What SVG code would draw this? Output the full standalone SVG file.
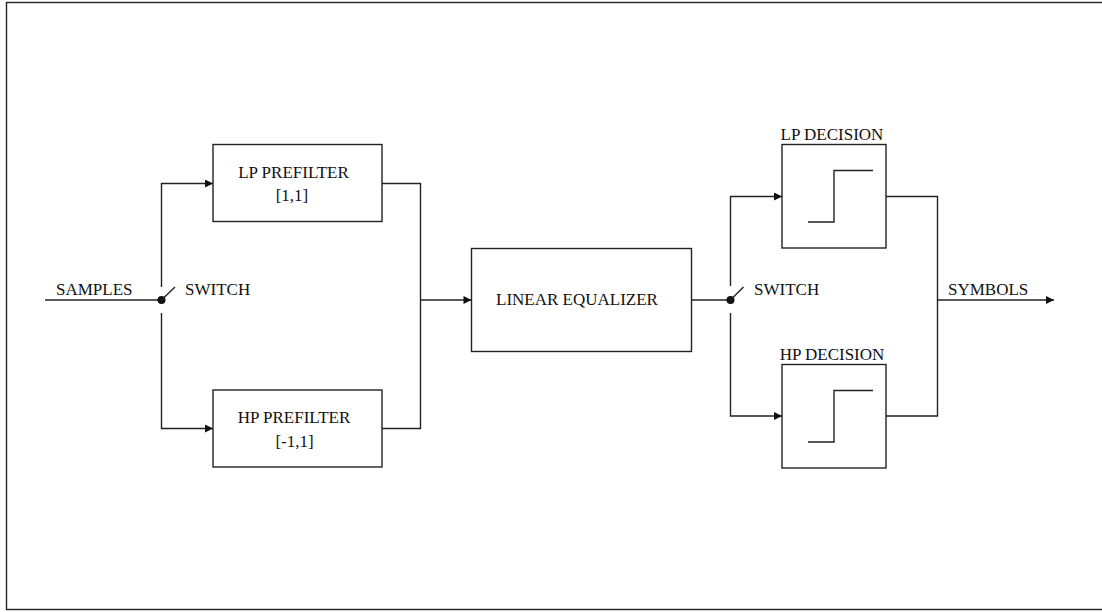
<svg xmlns="http://www.w3.org/2000/svg" width="1102" height="612" viewBox="0 0 1102 612">
<style>
.box{fill:#fff;stroke:#222;stroke-width:1.4}
.ln{fill:none;stroke:#222;stroke-width:1.4}
text{font-family:'Liberation Serif','Times New Roman',Times,serif;font-size:17px;fill:#111}
.m{text-anchor:middle}
</style>
<defs>
<marker id="arr" viewBox="0 0 10 10" refX="10" refY="5" markerWidth="9" markerHeight="8" markerUnits="userSpaceOnUse" orient="auto">
<path d="M0,0 L10,5 L0,10 z" fill="#111"/>
</marker>
</defs>
<rect x="6.5" y="2.5" width="1100" height="607" fill="#fff" stroke="#222" stroke-width="1.4"/>
<g id="connectors">
<path class="ln" d="M45,300 H161.5"/>
<path class="ln" d="M161.5,287 V183.5 H213" marker-end="url(#arr)"/>
<path class="ln" d="M161.5,313 V428.5 H213" marker-end="url(#arr)"/>
<path class="ln" d="M382,183.5 H420.5 V428.5 H382"/>
<path class="ln" d="M420.5,300 H471.5" marker-end="url(#arr)"/>
<path class="ln" d="M692,300 H730.5"/>
<path class="ln" d="M730.5,286 V196.5 H782" marker-end="url(#arr)"/>
<path class="ln" d="M730.5,313 V416 H782" marker-end="url(#arr)"/>
<path class="ln" d="M886,196.5 H937.5 V416 H886"/>
<path class="ln" d="M937.5,300 H1054" marker-end="url(#arr)"/>
</g>
<g id="input">
<text x="56" y="295">SAMPLES</text>
</g>
<g id="switch1">
<circle cx="161.5" cy="300" r="4" fill="#111"/>
<path class="ln" d="M161.5,300 L175,287"/>
<text x="185" y="295">SWITCH</text>
</g>
<g id="lp-prefilter">
<rect class="box" x="213" y="144.5" width="169" height="77"/>
<text class="m" x="293.5" y="178">LP PREFILTER</text>
<text class="m" x="292" y="201">[1,1]</text>
</g>
<g id="hp-prefilter">
<rect class="box" x="213" y="390" width="169" height="77"/>
<text class="m" x="294" y="423">HP PREFILTER</text>
<text class="m" x="294.5" y="446.5">[-1,1]</text>
</g>
<g id="linear-equalizer">
<rect class="box" x="471.5" y="248.5" width="220" height="103"/>
<text class="m" x="577" y="304.5">LINEAR EQUALIZER</text>
</g>
<g id="switch2">
<circle cx="730.5" cy="300" r="4" fill="#111"/>
<path class="ln" d="M730.5,300 L743.5,287"/>
<text x="754" y="295">SWITCH</text>
</g>
<g id="lp-decision">
<rect class="box" x="782" y="144.5" width="104" height="103.5"/>
<path class="ln" d="M808,222 H834 V170.5 H873"/>
<text class="m" x="832" y="140">LP DECISION</text>
</g>
<g id="hp-decision">
<rect class="box" x="782" y="364.5" width="104" height="103.5"/>
<path class="ln" d="M808,442 H834 V390.5 H873"/>
<text class="m" x="832" y="360">HP DECISION</text>
</g>
<g id="output">
<text x="948" y="295">SYMBOLS</text>
</g>
</svg>
